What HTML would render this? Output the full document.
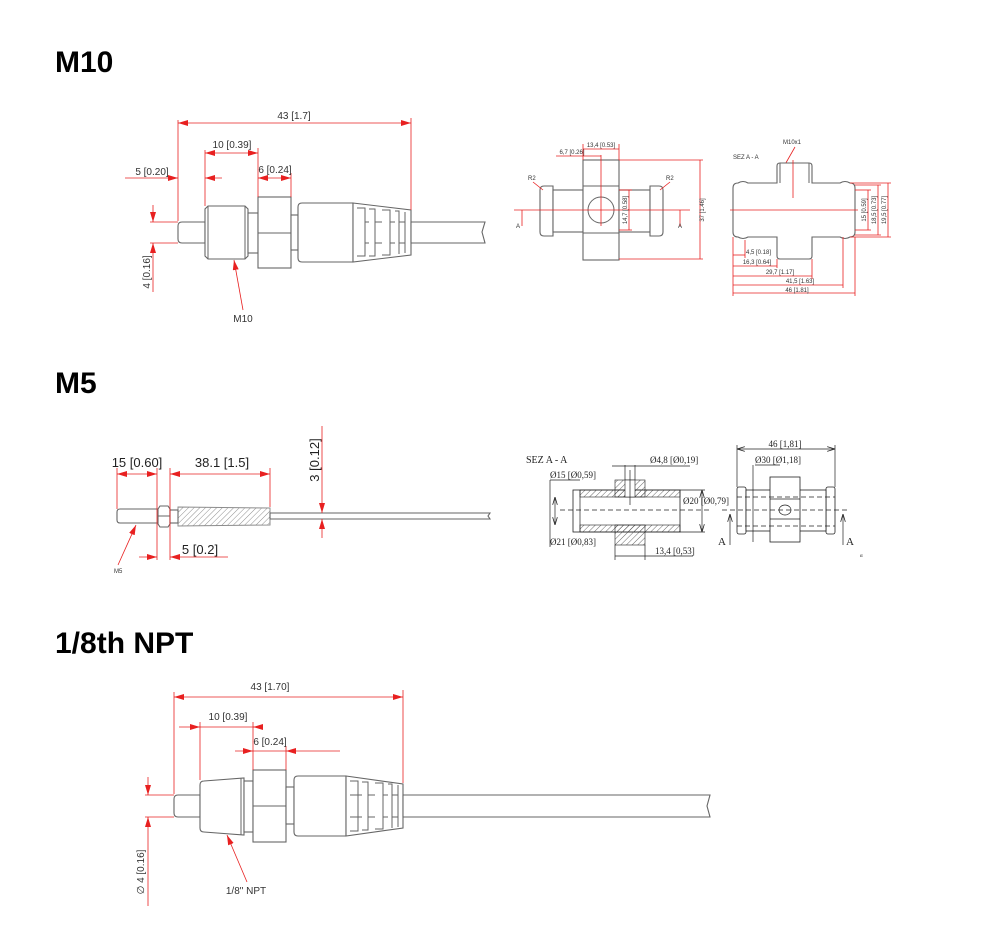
<!DOCTYPE html>
<html><head><meta charset="utf-8"><style>
html,body{margin:0;padding:0;background:#fff;}
svg{display:block;}
.t{font-family:"Liberation Sans",Arial,sans-serif;font-weight:bold;font-size:30px;fill:#000;}
.s{font-family:"Liberation Sans",Arial,sans-serif;font-size:10px;fill:#333;}
.xs{font-family:"Liberation Sans",Arial,sans-serif;font-size:6px;fill:#333;}
.m{font-family:"Liberation Sans",Arial,sans-serif;font-size:13px;fill:#222;}
.sr{font-family:"Liberation Serif",serif;font-size:9px;fill:#222;}
.o{fill:#fff;stroke:#666;stroke-width:1.1;}
.ln{stroke:#666;stroke-width:1;fill:none;}
.r{stroke:#e82020;stroke-width:0.8;fill:none;}
.k{stroke:#222;stroke-width:0.7;fill:none;}
.kd{stroke:#222;stroke-width:0.7;fill:none;stroke-dasharray:5 3;}
</style></head><body>
<svg width="1000" height="946" viewBox="0 0 1000 946" xmlns="http://www.w3.org/2000/svg">
<defs>
<marker id="a" viewBox="0 0 10 6" refX="10" refY="3" markerWidth="10" markerHeight="6" markerUnits="userSpaceOnUse" orient="auto-start-reverse"><path d="M0,0L10,3L0,6z" fill="#e82020"/></marker>
<marker id="b" viewBox="0 0 10 6" refX="10" refY="3" markerWidth="8" markerHeight="5" markerUnits="userSpaceOnUse" orient="auto-start-reverse"><path d="M0,0L10,3L0,6" fill="none" stroke="#222"/></marker>
<pattern id="h" width="4" height="4" patternUnits="userSpaceOnUse" patternTransform="rotate(45)"><line x1="0" y1="0" x2="0" y2="4" stroke="#444" stroke-width="0.8"/></pattern>
</defs>

<!-- Titles -->
<text class="t" x="55" y="72">M10</text>
<text class="t" x="55" y="393">M5</text>
<text class="t" x="55" y="653">1/8th NPT</text>

<!-- ===== M10 sensor ===== -->
<path class="o" d="M205,222 H182 Q178,222 178,226 V239 Q178,243 182,243 H205 Z"/>
<path class="o" d="M208,206 H245 L248,209 V256 L245,259 H208 L205,256 V209 Z"/>
<line class="ln" x1="208" y1="206" x2="208" y2="259"/><line class="ln" x1="245" y1="206" x2="245" y2="259"/>
<rect class="o" x="248" y="213" width="10" height="40"/>
<rect class="o" x="258" y="197" width="33" height="71"/>
<line class="ln" x1="258" y1="233" x2="291" y2="233"/>
<rect class="o" x="291" y="215" width="7" height="35"/>
<path class="o" d="M302,203 H353 V262 H302 Q298,262 298,258 V207 Q298,203 302,203 Z"/>
<path class="o" d="M353,203 L411,210 V255 L353,262 Z"/>
<path class="ln" d="M357,208 h8 v48 h-8 M369,209 h6 v47 h-6 M382,210 h8 v45 h-8 M395,211 h4 v43 M405,212 v41"/>
<path class="ln" d="M365,222 h4 M365,243 h4 M375,222 h7 M375,243 h7 M390,222 h5 M390,243 h5 M399,222 h6 M399,243 h6 M357,222h0"/>
<path class="o" d="M411,222 H485 L482,232 L485,243 H411 Z"/>
<!-- dims -->
<line class="r" x1="178" y1="120" x2="178" y2="221"/>
<line class="r" x1="411" y1="118" x2="411" y2="210"/>
<line class="r" x1="178" y1="123" x2="411" y2="123" marker-start="url(#a)" marker-end="url(#a)"/>
<text class="s" x="294" y="119" text-anchor="middle">43 [1.7]</text>
<line class="r" x1="205" y1="150" x2="205" y2="206"/>
<line class="r" x1="258" y1="148" x2="258" y2="197"/>
<line class="r" x1="205" y1="153" x2="258" y2="153" marker-start="url(#a)" marker-end="url(#a)"/>
<text class="s" x="232" y="148" text-anchor="middle">10 [0.39]</text>
<line class="r" x1="291" y1="173" x2="291" y2="197"/>
<line class="r" x1="258" y1="178" x2="291" y2="178" marker-start="url(#a)" marker-end="url(#a)"/>
<text class="s" x="275" y="173" text-anchor="middle">6 [0.24]</text>
<line class="r" x1="125" y1="178" x2="178" y2="178" marker-end="url(#a)"/>
<line class="r" x1="222" y1="178" x2="205" y2="178" marker-end="url(#a)"/>
<text class="s" x="152" y="175" text-anchor="middle">5 [0.20]</text>
<line class="r" x1="150" y1="222" x2="178" y2="222"/>
<line class="r" x1="150" y1="243" x2="178" y2="243"/>
<line class="r" x1="153" y1="205" x2="153" y2="222" marker-end="url(#a)"/>
<line class="r" x1="153" y1="292" x2="153" y2="243" marker-end="url(#a)"/>
<text class="s" transform="translate(150,272) rotate(-90)" text-anchor="middle">4 [0.16]</text>
<line class="r" x1="243" y1="310" x2="234" y2="260" marker-end="url(#a)"/>
<text class="s" x="243" y="322" text-anchor="middle">M10</text>

<!-- M10 right: front view -->
<path class="o" d="M544,186 H553 V236 H544 Q540,236 540,232 V190 Q540,186 544,186 Z"/>
<rect class="o" x="553" y="190" width="30" height="42"/>
<rect class="o" x="583" y="160" width="36" height="100"/>
<line class="ln" x1="583" y1="186" x2="619" y2="186"/><line class="ln" x1="583" y1="233" x2="619" y2="233"/>
<rect class="o" x="619" y="190" width="31" height="42"/>
<path class="o" d="M650,186 H659 Q663,186 663,190 V232 Q663,236 659,236 H650 Z"/>
<circle class="ln" cx="601" cy="210" r="13"/>
<line class="r" x1="514" y1="210" x2="690" y2="210"/>
<line class="r" x1="601" y1="155" x2="601" y2="226"/>
<line class="r" x1="583" y1="144" x2="583" y2="160"/><line class="r" x1="619" y1="144" x2="619" y2="160"/>
<line class="r" x1="583" y1="149" x2="619" y2="149"/>
<text class="xs" x="601" y="147" text-anchor="middle">13,4 [0.53]</text>
<line class="r" x1="556" y1="156" x2="601" y2="156"/>
<text class="xs" x="572" y="154" text-anchor="middle">6,7 [0.26]</text>
<line class="r" x1="619" y1="160" x2="703" y2="160"/><line class="r" x1="619" y1="259" x2="703" y2="259"/>
<line class="r" x1="700" y1="160" x2="700" y2="259"/>
<text class="xs" transform="translate(704,210) rotate(-90)" text-anchor="middle">37 [1.46]</text>
<line class="r" x1="619" y1="190" x2="632" y2="190"/><line class="r" x1="619" y1="230" x2="632" y2="230"/>
<line class="r" x1="629" y1="190" x2="629" y2="230"/>
<text class="xs" transform="translate(627,210) rotate(-90)" text-anchor="middle">14,7 [0.58]</text>
<line class="r" x1="533" y1="182" x2="543" y2="190"/><text class="xs" x="528" y="180">R2</text>
<line class="r" x1="670" y1="182" x2="660" y2="190"/><text class="xs" x="666" y="180">R2</text>
<line class="r" x1="522" y1="226" x2="522" y2="210"/><text class="xs" x="516" y="228">A</text>
<line class="r" x1="680" y1="226" x2="680" y2="210"/><text class="xs" x="678" y="228">A</text>

<!-- SEZ A-A -->
<text class="xs" x="733" y="159">SEZ  A - A</text>
<text class="xs" x="783" y="144">M10x1</text>
<line class="r" x1="795" y1="147" x2="783" y2="168"/>
<path class="o" d="M777,183 V166 Q777,163 780,163 H809 Q812,163 812,166 V183 H840 Q845,180 850,183 Q855,183 855,188 V232 Q855,237 850,237 Q845,240 840,237 H812 V256 Q812,259 809,259 H780 Q777,259 777,256 V237 H748 Q743,240 738,237 Q733,237 733,232 V188 Q733,183 738,183 Q743,180 748,183 Z"/>
<line class="ln" x1="780" y1="163" x2="780" y2="183"/><line class="ln" x1="809" y1="163" x2="809" y2="183"/>
<line class="r" x1="793" y1="160" x2="793" y2="198"/>
<line class="r" x1="730" y1="210" x2="858" y2="210"/>
<line class="r" x1="855" y1="190" x2="871" y2="190"/><line class="r" x1="855" y1="230" x2="871" y2="230"/>
<line class="r" x1="868" y1="190" x2="868" y2="230"/>
<line class="r" x1="855" y1="185" x2="881" y2="185"/><line class="r" x1="855" y1="235" x2="881" y2="235"/>
<line class="r" x1="878" y1="185" x2="878" y2="235"/>
<line class="r" x1="850" y1="183" x2="891" y2="183"/><line class="r" x1="850" y1="237" x2="891" y2="237"/>
<line class="r" x1="888" y1="183" x2="888" y2="237"/>
<text class="xs" transform="translate(866,210) rotate(-90)" text-anchor="middle">15 [0.59]</text>
<text class="xs" transform="translate(876,210) rotate(-90)" text-anchor="middle">18,5 [0.73]</text>
<text class="xs" transform="translate(886,210) rotate(-90)" text-anchor="middle">19,5 [0.77]</text>
<line class="r" x1="733" y1="237" x2="733" y2="296"/>
<line class="r" x1="745" y1="240" x2="745" y2="258"/>
<line class="r" x1="777" y1="259" x2="777" y2="268"/>
<line class="r" x1="812" y1="259" x2="812" y2="279"/>
<line class="r" x1="843" y1="237" x2="843" y2="288"/>
<line class="r" x1="855" y1="237" x2="855" y2="296"/>
<line class="r" x1="733" y1="255" x2="745" y2="255"/><text class="xs" x="746" y="254">4,5 [0.18]</text>
<line class="r" x1="733" y1="266" x2="777" y2="266"/><text class="xs" x="757" y="264" text-anchor="middle">16,3 [0.64]</text>
<line class="r" x1="733" y1="276" x2="812" y2="276"/><text class="xs" x="780" y="274" text-anchor="middle">29,7 [1.17]</text>
<line class="r" x1="733" y1="285" x2="843" y2="285"/><text class="xs" x="800" y="283" text-anchor="middle">41,5 [1.63]</text>
<line class="r" x1="733" y1="293" x2="855" y2="293"/><text class="xs" x="797" y="292" text-anchor="middle">46 [1.81]</text>

<!-- ===== M5 ===== -->
<path class="o" d="M158,509 H120 Q117,509 117,512 V520 Q117,523 120,523 H158 Z"/>
<path class="o" d="M160,506 H168 L170,509 V524 L168,527 H160 L158,524 V509 Z"/>
<line class="ln" x1="158" y1="516" x2="170" y2="516"/>
<rect class="o" x="170" y="510" width="8" height="13"/>
<path d="M178,507 L270,508 V525 L178,526 Z" fill="url(#h)" stroke="#666" stroke-width="1" opacity="0.75"/>
<path class="o" d="M270,513 H490 L488,516 L490,519 H270 Z"/>
<line class="r" x1="117" y1="468" x2="117" y2="509"/>
<line class="r" x1="157" y1="468" x2="157" y2="560"/>
<line class="r" x1="170" y1="468" x2="170" y2="560"/>
<line class="r" x1="270" y1="468" x2="270" y2="507"/>
<line class="r" x1="117" y1="474" x2="157" y2="474" marker-start="url(#a)" marker-end="url(#a)"/>
<line class="r" x1="170" y1="474" x2="270" y2="474" marker-start="url(#a)" marker-end="url(#a)"/>
<text class="m" x="137" y="467" text-anchor="middle">15 [0.60]</text>
<text class="m" x="222" y="467" text-anchor="middle">38.1 [1.5]</text>
<line class="r" x1="322" y1="426" x2="322" y2="513" marker-end="url(#a)"/>
<line class="r" x1="322" y1="538" x2="322" y2="519" marker-end="url(#a)"/>
<text class="m" transform="translate(319,460) rotate(-90)" text-anchor="middle">3 [0.12]</text>
<line class="r" x1="139" y1="557" x2="157" y2="557" marker-end="url(#a)"/>
<line class="r" x1="228" y1="557" x2="170" y2="557" marker-end="url(#a)"/>
<text class="m" x="200" y="554" text-anchor="middle">5 [0.2]</text>
<line class="r" x1="118" y1="565" x2="136" y2="525" marker-end="url(#a)"/>
<text class="xs" x="114" y="573">M5</text>

<!-- M5 right: section -->
<text class="sr" x="526" y="463" style="font-size:10px">SEZ  A - A</text>
<rect x="573" y="490" width="107" height="42" fill="#fff" stroke="#222" stroke-width="0.8"/>
<rect x="580" y="490" width="100" height="7" fill="url(#h)" stroke="#222" stroke-width="0.6"/>
<rect x="580" y="525" width="100" height="7" fill="url(#h)" stroke="#222" stroke-width="0.6"/>
<rect x="615" y="480" width="30" height="17" fill="url(#h)" stroke="#222" stroke-width="0.6"/>
<rect x="615" y="525" width="30" height="20" fill="url(#h)" stroke="#222" stroke-width="0.6"/>
<rect x="625" y="480" width="10" height="17" fill="#fff" stroke="#222" stroke-width="0.6"/>
<line class="k" x1="580" y1="490" x2="580" y2="532"/>
<line class="kd" x1="560" y1="510" x2="710" y2="510"/>
<line class="k" x1="630" y1="470" x2="630" y2="505"/>
<line class="k" x1="625" y1="465" x2="625" y2="480"/><line class="k" x1="635" y1="465" x2="635" y2="480"/>
<line class="k" x1="612" y1="466" x2="690" y2="466"/>
<text class="sr" x="650" y="463">Ø4,8 [Ø0,19]</text>
<line class="k" x1="550" y1="480" x2="580" y2="480"/><line class="k" x1="550" y1="480" x2="550" y2="547"/>
<text class="sr" x="550" y="478">Ø15 [Ø0,59]</text>
<line class="k" x1="555" y1="497" x2="555" y2="525" marker-start="url(#b)" marker-end="url(#b)"/>
<text class="sr" x="550" y="545">Ø21 [Ø0,83]</text>
<line class="k" x1="680" y1="490" x2="705" y2="490"/><line class="k" x1="680" y1="532" x2="705" y2="532"/>
<line class="k" x1="702" y1="490" x2="702" y2="532" marker-start="url(#b)" marker-end="url(#b)"/>
<text class="sr" x="683" y="504">Ø20 [Ø0,79]</text>
<line class="k" x1="615" y1="545" x2="615" y2="560"/><line class="k" x1="645" y1="545" x2="645" y2="560"/>
<line class="k" x1="615" y1="556" x2="693" y2="556"/>
<text class="sr" x="655" y="554">13,4 [0,53]</text>
<!-- M5 right: side view -->
<rect x="737" y="487" width="9" height="47" rx="2" fill="#fff" stroke="#222" stroke-width="0.8"/>
<rect x="826" y="487" width="9" height="47" rx="2" fill="#fff" stroke="#222" stroke-width="0.8"/>
<rect x="746" y="490" width="80" height="41" fill="#fff" stroke="#222" stroke-width="0.8"/>
<rect x="770" y="477" width="30" height="65" fill="#fff" stroke="#222" stroke-width="0.8"/>
<line class="k" x1="770" y1="499" x2="800" y2="499"/><line class="k" x1="770" y1="519" x2="800" y2="519"/>
<line class="kd" x1="737" y1="497" x2="835" y2="497"/><line class="kd" x1="737" y1="526" x2="835" y2="526"/>
<line class="kd" x1="722" y1="510" x2="850" y2="510"/>
<ellipse class="k" cx="785" cy="510" rx="6" ry="5"/>
<line class="k" x1="737" y1="445" x2="737" y2="487"/><line class="k" x1="835" y1="445" x2="835" y2="487"/>
<line class="k" x1="737" y1="449" x2="835" y2="449" marker-start="url(#b)" marker-end="url(#b)"/>
<text class="sr" x="785" y="447" text-anchor="middle">46 [1,81]</text>
<line class="k" x1="755" y1="465" x2="780" y2="465"/>
<line class="k" x1="753" y1="465" x2="753" y2="542"/>
<text class="sr" x="755" y="463">Ø30 [Ø1,18]</text>
<line class="k" x1="730" y1="545" x2="730" y2="514" marker-end="url(#b)"/>
<line class="k" x1="843" y1="545" x2="843" y2="514" marker-end="url(#b)"/>
<text class="sr" x="718" y="545" style="font-size:11px">A</text>
<text class="sr" x="846" y="545" style="font-size:11px">A</text>
<text class="sr" x="860" y="557" style="font-size:5px">α</text>

<!-- ===== 1/8 NPT ===== -->
<path class="o" d="M200,795 H178 Q174,795 174,799 V813 Q174,817 178,817 H200 Z"/>
<path class="o" d="M204,781 L244,778 V835 L204,832 Q200,832 200,828 V785 Q200,781 204,781 Z"/>
<line class="ln" x1="241" y1="778" x2="241" y2="835"/>
<rect class="o" x="244" y="781" width="9" height="51"/>
<rect class="o" x="253" y="770" width="33" height="72"/>
<line class="ln" x1="253" y1="806" x2="286" y2="806"/>
<rect class="o" x="286" y="787" width="8" height="37"/>
<path class="o" d="M298,776 H346 V836 H298 Q294,836 294,832 V780 Q294,776 298,776 Z"/>
<path class="o" d="M346,776 L403,784 V828 L346,836 Z"/>
<path class="ln" d="M350,781 h8 v50 h-8 M362,782 h6 v48 h-6 M375,783 h8 v46 h-8 M388,784 h4 v44 M398,785 v42"/>
<path class="ln" d="M358,795 h4 M358,817 h4 M368,795 h7 M368,817 h7 M383,795 h5 M383,817 h5 M392,795 h6 M392,817 h6 M350,795 h8 M350,817 h8"/>
<path class="o" d="M403,795 H710 L707,806 L710,817 H403 Z"/>
<line class="r" x1="174" y1="692" x2="174" y2="794"/>
<line class="r" x1="403" y1="690" x2="403" y2="783"/>
<line class="r" x1="174" y1="697" x2="403" y2="697" marker-start="url(#a)" marker-end="url(#a)"/>
<text class="s" x="270" y="690" text-anchor="middle">43 [1.70]</text>
<line class="r" x1="200" y1="722" x2="200" y2="780"/>
<line class="r" x1="253" y1="722" x2="253" y2="770"/>
<line class="r" x1="286" y1="746" x2="286" y2="770"/>
<line class="r" x1="179" y1="727" x2="200" y2="727" marker-end="url(#a)"/>
<line class="r" x1="200" y1="727" x2="263" y2="727"/>
<line class="r" x1="263" y1="727" x2="253" y2="727" marker-end="url(#a)"/>
<text class="s" x="228" y="720" text-anchor="middle">10 [0.39]</text>
<line class="r" x1="235" y1="751" x2="253" y2="751" marker-end="url(#a)"/>
<line class="r" x1="340" y1="751" x2="286" y2="751" marker-end="url(#a)"/>
<line class="r" x1="253" y1="751" x2="286" y2="751"/>
<text class="s" x="270" y="745" text-anchor="middle">6 [0.24]</text>
<line class="r" x1="145" y1="795" x2="174" y2="795"/>
<line class="r" x1="145" y1="817" x2="174" y2="817"/>
<line class="r" x1="148" y1="777" x2="148" y2="795" marker-end="url(#a)"/>
<line class="r" x1="148" y1="906" x2="148" y2="817" marker-end="url(#a)"/>
<text class="s" transform="translate(144,872) rotate(-90)" text-anchor="middle">∅ 4 [0.16]</text>
<line class="r" x1="247" y1="882" x2="227" y2="835" marker-end="url(#a)"/>
<text class="s" x="246" y="894" text-anchor="middle">1/8" NPT</text>
</svg>
</body></html>
